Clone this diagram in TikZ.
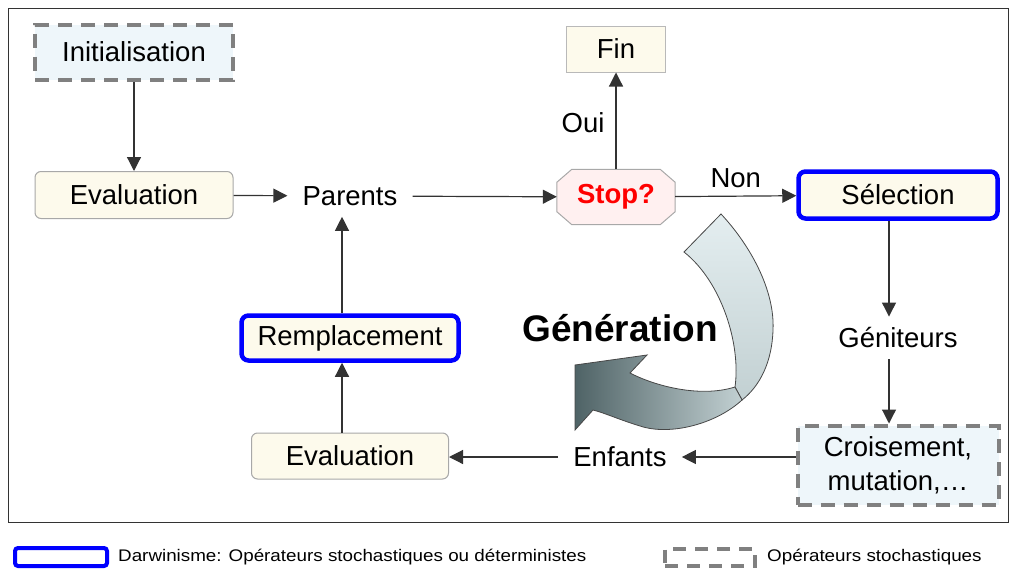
\documentclass[tikz,border=0pt]{standalone}
\usepackage{fontspec}
\setmainfont{Liberation Sans}
\usetikzlibrary{arrows.meta}
\pgfdeclarelayer{background}
\pgfsetlayers{background,main}
\definecolor{cream}{HTML}{FDFAEC}
\definecolor{iceblue}{HTML}{EEF6FA}
\definecolor{pinkish}{HTML}{FFF0F0}
\definecolor{dgray}{HTML}{808080}
\definecolor{lgray}{HTML}{A8A8A8}
\definecolor{dblue}{HTML}{0000FF}
\definecolor{linecol}{HTML}{333333}
\definecolor{ribdark}{HTML}{4F6366}
\definecolor{ribmid}{HTML}{C2D0D2}
\definecolor{riblight}{HTML}{E4EEF0}
\begin{document}
\begin{tikzpicture}[x=1pt,y=-1pt,
 every node/.style={font=\fontsize{27.5}{34}\selectfont, inner sep=0pt},
 evalbox/.style={draw=lgray, line width=1pt, fill=cream, rounded corners=6pt, minimum width=198pt, minimum height=47pt},
 darwbox/.style={draw=dblue, line width=4.5pt, fill=cream, rounded corners=7pt},
 stochbox/.style={draw=dgray, line width=4pt, dash pattern=on 14pt off 9pt, fill=iceblue},
 plain/.style={inner xsep=15pt, inner ysep=11pt},
 conn/.style={draw=linecol, line width=1.2pt, -{Triangle[length=14pt,width=14pt]}},
 legtext/.style={anchor=west, font=\fontsize{16.8}{20}\selectfont}
]
\useasboundingbox (0,0) rectangle (1011,570);
\draw[line width=1pt, draw=linecol] (8,8) rectangle (1008,522);

% nodes
\node[stochbox, minimum width=198pt, minimum height=55pt] (init) at (134,52) {Initialisation};
\node[evalbox] (eval1) at (134,195) {Evaluation};
\node[plain] (parents) at (350,196) {Parents};
\node[minimum width=118pt, minimum height=55pt, text=red, font=\bfseries\fontsize{27.5}{34}\selectfont] (stop) at (616,197) {Stop?};
\begin{pgfonlayer}{background}
\draw[draw=lgray, fill=pinkish, line width=1pt]
  ([xshift=15pt]stop.north west) -- ([xshift=-15pt]stop.north east)
  -- ([yshift=-13pt]stop.north east) -- ([yshift=13pt]stop.south east)
  -- ([xshift=-15pt]stop.south east) -- ([xshift=15pt]stop.south west)
  -- ([yshift=13pt]stop.south west) -- ([yshift=-13pt]stop.north west) -- cycle;
\end{pgfonlayer}
\node[draw=lgray!80, fill=cream, line width=1pt, minimum width=99pt, minimum height=46pt] (fin) at (616,49) {Fin};
\node[darwbox, minimum width=199pt, minimum height=47pt] (sel) at (898,195) {Sélection};
\node[plain] (gen) at (898,338) {Géniteurs};
\node[stochbox, minimum width=201pt, minimum height=79pt, align=center, font=\fontsize{27.5}{34}\selectfont] (cro) at (898,465) {Croisement,\\mutation,…};
\node[plain] (enf) at (620,457) {Enfants};
\node[evalbox, minimum width=197pt, minimum height=46pt] (eval2) at (350,456) {Evaluation};
\node[darwbox, minimum width=217pt, minimum height=45pt] (rem) at (350,338) {Remplacement};

% generation ribbon arrow: light tail
\path[shade, top color=riblight, bottom color=ribmid, draw=linecol!90, line width=0.8pt]
  (684,252) -- (721,214)
  .. controls (750,245) and (775,290) .. (773,330)
  .. controls (772,362) and (760,386) .. (742,400)
  .. controls (740,396) and (737,391) .. (735,387)
  .. controls (741,345) and (722,282) .. (684,252) -- cycle;
% dark shaft and head
\path[shade, left color=ribdark, right color=ribmid, draw=linecol!90, line width=0.8pt]
  (742,400)
  .. controls (716,424) and (670,436) .. (640,426)
  .. controls (620,420) and (605,413) .. (593,410)
  -- (575,430) -- (575,365) -- (647,355) -- (630,373)
  .. controls (655,386) and (700,398) .. (735,387)
  .. controls (737,391) and (740,396) .. (742,400) -- cycle;
\node[font=\bfseries\fontsize{37}{40}\selectfont] (gener) at (620,328) {Génération};

% connectors
\draw[conn] (init) -- (eval1);
\draw[conn] (eval1) -- (parents);
\draw[conn] (parents) -- (stop);
\draw[conn] (stop) -- node[pos=0.48, left=11pt] (oui) {Oui} (fin);
\draw[conn] (stop) -- node[above=8pt] (non) {Non} (sel);
\draw[conn] ([xshift=-9pt]sel.south) -- ([xshift=-9pt]gen.north);
\draw[conn] ([xshift=-9pt]gen.south) -- ([xshift=-9pt]cro.north);
\draw[conn] (cro.west |- enf) -- (enf);
\draw[conn] (enf.west) -- (eval2.east |- enf.west);
\draw[conn] ([xshift=-8pt]eval2.north) -- ([xshift=-8pt]rem.south);
\draw[conn] ([xshift=-8pt]rem.north) -- ([xshift=-8pt]parents.south);

% legend
\node[draw=dblue, line width=4pt, rounded corners=3pt, minimum width=92pt, minimum height=18pt] (legd) at (61,557) {};
\node[legtext] (legdt) at (118,557) {\scalebox{1.12}[1]{Darwinisme: Opérateurs stochastiques ou déterministes}};
\node[draw=dgray, line width=4pt, dash pattern=on 13pt off 9pt, minimum width=90pt, minimum height=17pt] (legs) at (710,557) {};
\node[legtext] (legst) at (767,557) {\scalebox{1.12}[1]{Opérateurs stochastiques}};
\end{tikzpicture}
\end{document}
